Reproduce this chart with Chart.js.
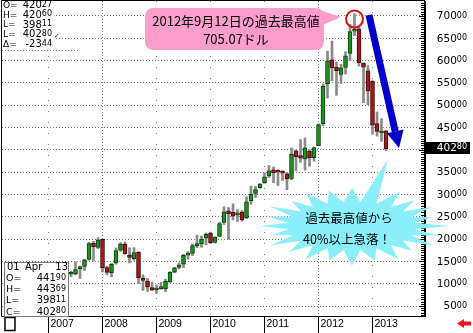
<!DOCTYPE html>
<html><head><meta charset="utf-8">
<script src="https://cdn.jsdelivr.net/npm/chart.js@4"></script>
<style>html,body{margin:0;padding:0;background:#fff;overflow:hidden}canvas{display:block}</style>
</head><body>
<canvas id="c" width="473" height="333"></canvas>
<script>
// Monthly OHLC, Jan 2007 .. Apr 2013 (price x100)
const openP = [
 8629, 8623, 8403, 9414, 9959,12110,12200,13364,13899,15463,19061,18109,
19927,13624,12444,14630,17496,18860,16423,15629,17019,11210,10509, 9130,
 8588, 8910, 8825,10409,12557,13647,14350,16405,16799,18535,18916,20200,
21343,19237,20575,23741,26312,25969,25430,26044,24747,28615,30222,31500,
32564,34130,35547,35111,35111,34631,33600,39778,38700,38037,39741,38254,
40940,45841,54817,60183,58490,56916,58473,61591,66576,67116,59468,57708,
55382,45911,43800,44190];
const highP = [
 9780, 9097, 9710,10339,12217,12761,14892,13976,15500,19300,19477,20296,
20026,13920,14521,18000,19224,19319,18045,18080,17188,11968,11172,10360,
 9717,10300,10998,12699,13685,14700,16600,17200,18895,20879,20700,21375,
21559,20500,23748,27246,27083,27901,26599,26400,29473,31900,31840,32506,
34860,36490,36167,35513,35322,34950,40450,40000,42286,42670,40008,40650,
45824,54761,62145,64400,59676,59175,61987,68087,70507,67675,59468,58900,
55500,48494,46995,44369];
const lowP = [
 8190, 8300, 8233, 8960, 9855,11540,11952,11162,12938,15270,15063,17865,
12614,11986,11544,14361,17250,16590,14653,15248,10059, 8500, 8270, 8480,
 7820, 8750, 8233,10261,12438,13300,13606,15468,16300,18061,18186,18700,
19025,19085,20545,23275,19925,24300,23960,24000,24600,27777,29300,31400,
32484,33772,32626,32016,33150,31050,33300,35302,37190,35424,36332,37480,
40900,45398,51622,55500,52218,54850,57000,60025,65600,58770,50575,50123,
43500,43079,41900,39811];
const closeP = [
 8573, 8461, 9291, 9980,12119,12204,13176,13848,15347,18995,18222,19808,
13536,12502,14350,17395,18875,16744,15895,16953,11366,10759, 9267, 8535,
 9013, 8931,10512,12583,13581,14243,16339,16821,18535,18850,19991,21073,
19206,20462,23500,26109,25688,25153,25725,24310,28375,30098,31115,32256,
33932,35321,34851,35013,34783,33567,39048,38483,38132,40478,38220,40500,
45648,54244,59955,58398,57773,58400,61076,66524,66710,59532,58528,53217,
45549,44126,44266,40280];
const yearLabels = ['2007','2008','2009','2010','2011','2012','2013'];
const yTicks = [5000,10000,15000,20000,25000,30000,35000,40000,45000,50000,55000,60000,65000,70000];
const lastPrice = '40280';
const headerInfo = [['O=','42027'],['H=','42060'],['L=','39811'],['L=','40280'],['Δ=','-2344']];
const barDate = ['01','Apr','13'];
const barInfo = [['O=','44190'],['H=','44369'],['L=','39811'],['C=','40280']];

const idx = openP.map((_, i) => i);
const up = idx.map(i => closeP[i] >= openP[i]);
const wickData = idx.map(i => ({x: i, y: [lowP[i], highP[i]]}));
const bodyData = idx.map(i => ({x: i, y: [Math.min(openP[i], closeP[i]), Math.max(openP[i], closeP[i])]}));

function priceText(ctx, s, xr, y, big, small, family) {
  const a = s.slice(0, -2), b = s.slice(-2);
  ctx.font = small + 'px ' + family; const wb = ctx.measureText(b).width;
  ctx.font = big + 'px ' + family; const wa = ctx.measureText(a).width;
  ctx.textAlign = 'left'; ctx.textBaseline = 'middle';
  ctx.fillText(a, xr - wb - wa, y);
  ctx.font = small + 'px ' + family;
  ctx.fillText(b, xr - wb, y - 1);
}

const gridPlugin = {
  id: 'grid',
  beforeDatasetsDraw(chart) {
    const {ctx, chartArea: a, scales: {x, y}} = chart;
    ctx.save();
    ctx.strokeStyle = '#7a7a7a'; ctx.lineWidth = 1;
    ctx.setLineDash([1, 2]);
    yTicks.forEach(v => {
      const py = Math.floor(y.getPixelForValue(v)) + 0.5;
      ctx.beginPath(); ctx.moveTo(a.left, py); ctx.lineTo(a.right, py); ctx.stroke();
    });
    yearLabels.forEach((yl, k) => {
      const px = Math.floor(x.getPixelForValue(12 * k)) + 0.5;
      const dense = (yl === '2008' || yl === '2012');
      ctx.setLineDash(dense ? [1, 2] : [1, 10]);
      ctx.beginPath(); ctx.moveTo(px, a.top); ctx.lineTo(px, a.bottom); ctx.stroke();
    });
    ctx.restore();
  }
};

const overlayPlugin = {
  id: 'overlay',
  afterDraw(chart) {
    const {ctx, chartArea: a, scales: {x, y}} = chart;
    const W = chart.width, H = chart.height;
    ctx.save();
    ctx.setLineDash([]);
    // frame
    ctx.strokeStyle = '#000'; ctx.lineWidth = 1;
    ctx.beginPath();
    ctx.moveTo(1.5, 0.5); ctx.lineTo(a.right, 0.5);
    ctx.moveTo(1.5, 0.5); ctx.lineTo(1.5, a.bottom + 0.5);
    ctx.moveTo(1.5, a.bottom + 0.5); ctx.lineTo(a.right, a.bottom + 0.5);
    ctx.stroke();
    // right axis with ruler ticks
    ctx.fillStyle = '#000';
    ctx.fillRect(a.right - 1, a.top, 2, a.bottom - a.top + 1);
    for (let v = 3000; v <= 73000; v += 500) {
      const py = Math.round(y.getPixelForValue(v));
      const len = (v % 5000 === 0) ? 5 : 3;
      ctx.fillRect(a.right - 1 - len, py, len, 1);
    }
    // y labels
    ctx.fillStyle = '#000';
    yTicks.forEach(v => {
      priceText(ctx, String(v), 467, y.getPixelForValue(v) + 0.5, 10.5, 8, '"DejaVu Sans"');
    });
    // last price box
    const lp = y.getPixelForValue(Number(lastPrice));
    ctx.fillStyle = '#000';
    ctx.fillRect(a.right, Math.round(lp) - 7, 45, 12);
    ctx.fillStyle = '#fff';
    priceText(ctx, lastPrice, 467, Math.round(lp) - 1, 10.5, 8, '"DejaVu Sans"');
    // x axis years
    ctx.fillStyle = '#000'; ctx.strokeStyle = '#000';
    yearLabels.forEach((yl, k) => {
      const px = Math.floor(x.getPixelForValue(12 * k)) + 0.5;
      ctx.beginPath(); ctx.moveTo(px, a.bottom); ctx.lineTo(px, H); ctx.stroke();
      ctx.font = '10.5px "Liberation Sans"'; ctx.textAlign = 'left'; ctx.textBaseline = 'middle';
      ctx.fillText(yl, px + 2, a.bottom + 8.5);
    });
    // small box bottom left
    ctx.lineWidth = 1.5;
    ctx.strokeRect(5, a.bottom + 1.5, 10, 13);
    ctx.lineWidth = 1;
    // red arrow
    ctx.fillStyle = '#e8141e';
    ctx.beginPath();
    ctx.moveTo(457, 323.5); ctx.lineTo(464, 319); ctx.lineTo(464, 321.5); ctx.lineTo(471, 321.5);
    ctx.lineTo(471, 325.5); ctx.lineTo(464, 325.5); ctx.lineTo(464, 328); ctx.closePath(); ctx.fill();

    // top-left info
    ctx.fillStyle = '#fff'; ctx.fillRect(2, 1, 52, 47);
    ctx.fillStyle = '#000';
    headerInfo.forEach((r, k) => {
      const py = 5.5 + k * 9.8;
      ctx.font = '9px "DejaVu Sans"'; ctx.textAlign = 'left'; ctx.textBaseline = 'middle';
      ctx.fillText(r[0], 3, py);
      priceText(ctx, r[1], 52, py, 10, 8, '"DejaVu Sans"');
    });
    ctx.font = '6px "DejaVu Sans"'; ctx.fillText('✓', 54, 36);
    ctx.strokeStyle = '#8a8a8a'; ctx.setLineDash([1, 2]);
    ctx.beginPath(); ctx.moveTo(2, 50.5); ctx.lineTo(80, 50.5); ctx.stroke();
    ctx.setLineDash([]);

    // bottom-left info
    ctx.fillStyle = '#fff'; ctx.fillRect(4, 262, 65, a.bottom - 262);
    ctx.strokeStyle = '#7a7a7a'; ctx.strokeRect(4.5, 262.5, 64, a.bottom - 262);
    ctx.fillStyle = '#000';
    ctx.font = '10px "DejaVu Sans"'; ctx.textBaseline = 'middle';
    ctx.textAlign = 'left'; ctx.fillText(barDate[0], 7, 267.5); ctx.fillText(barDate[1], 25, 267.5);
    ctx.textAlign = 'right'; ctx.fillText(barDate[2], 68, 267.5);
    barInfo.forEach((r, k) => {
      const py = 278.5 + k * 11.2;
      ctx.font = '9.5px "DejaVu Sans"'; ctx.textAlign = 'left';
      ctx.fillText(r[0], 6, py);
      priceText(ctx, r[1], 66, py, 10, 8, '"DejaVu Sans"');
    });

    // ---- annotations ----
    // callout
    ctx.fillStyle = '#fc9dcb';
    const bx = 145, by = 8, bw = 179, bh = 42, r = 9;
    ctx.beginPath();
    ctx.moveTo(bx + r, by); ctx.lineTo(bx + bw - r, by); ctx.quadraticCurveTo(bx + bw, by, bx + bw, by + r);
    ctx.lineTo(bx + bw, by + bh - r); ctx.quadraticCurveTo(bx + bw, by + bh, bx + bw - r, by + bh);
    ctx.lineTo(bx + r, by + bh); ctx.quadraticCurveTo(bx, by + bh, bx, by + bh - r);
    ctx.lineTo(bx, by + r); ctx.quadraticCurveTo(bx, by, bx + r, by); ctx.closePath(); ctx.fill();
    ctx.beginPath(); ctx.moveTo(318, 9.5); ctx.lineTo(341, 17); ctx.lineTo(318, 27); ctx.closePath(); ctx.fill();
    ctx.fillStyle = '#000';
    ctx.font = '13px "Noto Sans CJK JP"'; ctx.textAlign = 'center'; ctx.textBaseline = 'middle';
    ctx.fillText('2012年9月12日の過去最高値', 236, 21);
    ctx.fillText('705.07ドル', 236, 39);
    // red circle at peak
    ctx.strokeStyle = '#e01010'; ctx.lineWidth = 2;
    ctx.beginPath(); ctx.arc(354.5, 19, 8.5, 0, Math.PI * 2); ctx.stroke();
    // blue arrow
    const sx = 369, sy = 15, tx = 399, ty = 148;
    const dx = tx - sx, dy = ty - sy, L = Math.hypot(dx, dy), ux = dx / L, uy = dy / L;
    const hl = 17, hw = 8.5;
    const cbx = tx - ux * hl, cby = ty - uy * hl;
    ctx.strokeStyle = '#0000cc'; ctx.lineWidth = 7; ctx.lineCap = 'butt';
    ctx.beginPath(); ctx.moveTo(sx, sy); ctx.lineTo(cbx, cby); ctx.stroke();
    ctx.fillStyle = '#0000cc';
    ctx.beginPath(); ctx.moveTo(tx, ty); ctx.lineTo(cbx - uy * hw, cby + ux * hw); ctx.lineTo(cbx + uy * hw, cby - ux * hw); ctx.closePath(); ctx.fill();
    // cyan burst
    const cx = 352, cy = 226, N = 24;
    const jit = [1.0, 0.93, 1.04, 0.96, 1.0, 0.9, 1.05, 0.97, 1.02, 0.92, 1.0, 0.95, 1.04, 0.94, 1.0, 0.97, 1.03, 0.9, 1.0, 0.96, 1.04, 0.93, 1.0, 0.97];
    ctx.fillStyle = '#8aeffa';
    ctx.beginPath();
    for (let k = 0; k < 2 * N; k++) {
      const ang = -Math.PI / 2 + k * Math.PI / N;
      let px, py;
      if (k === 2) { px = 388; py = 159; }
      else if (k % 2 === 0) { const j = jit[k / 2]; px = cx + 92 * j * Math.cos(ang); py = cy + 38 * j * Math.sin(ang); }
      else { px = cx + 64 * Math.cos(ang); py = cy + 24 * Math.sin(ang); }
      if (k === 0) ctx.moveTo(px, py); else ctx.lineTo(px, py);
    }
    ctx.closePath(); ctx.fill();
    ctx.fillStyle = '#000';
    ctx.font = '12.5px "Noto Sans CJK JP"'; ctx.textAlign = 'center'; ctx.textBaseline = 'middle';
    ctx.fillText('過去最高値から', 349, 218);
    ctx.fillText('40%以上急落！', 347, 239);
    ctx.restore();
  }
};

new Chart(document.getElementById('c'), {
  type: 'bar',
  data: {
    datasets: [
      {label: 'body', data: bodyData, backgroundColor: up.map(u => u ? '#1f8f22' : '#9c1c1c'),
       borderColor: up.map(u => u ? '#0c400c' : '#4a0808'), borderWidth: 1, borderSkipped: false,
       barThickness: 4, minBarLength: 2, grouped: false, order: 0},
      {label: 'wick', data: wickData, backgroundColor: '#8a8a8a', borderWidth: 0,
       barThickness: 2, grouped: false, order: 1}
    ]
  },
  options: {
    responsive: false, animation: false, devicePixelRatio: 1,
    layout: {padding: {left: 2, right: 48, top: 1, bottom: 17}},
    plugins: {legend: {display: false}, tooltip: {enabled: false}},
    scales: {
      x: {type: 'linear', min: -10.333, max: 83.667, offset: false, display: false},
      y: {type: 'linear', min: 2759, max: 73362, display: false}
    }
  },
  plugins: [gridPlugin, overlayPlugin]
});
</script>
</body></html>
